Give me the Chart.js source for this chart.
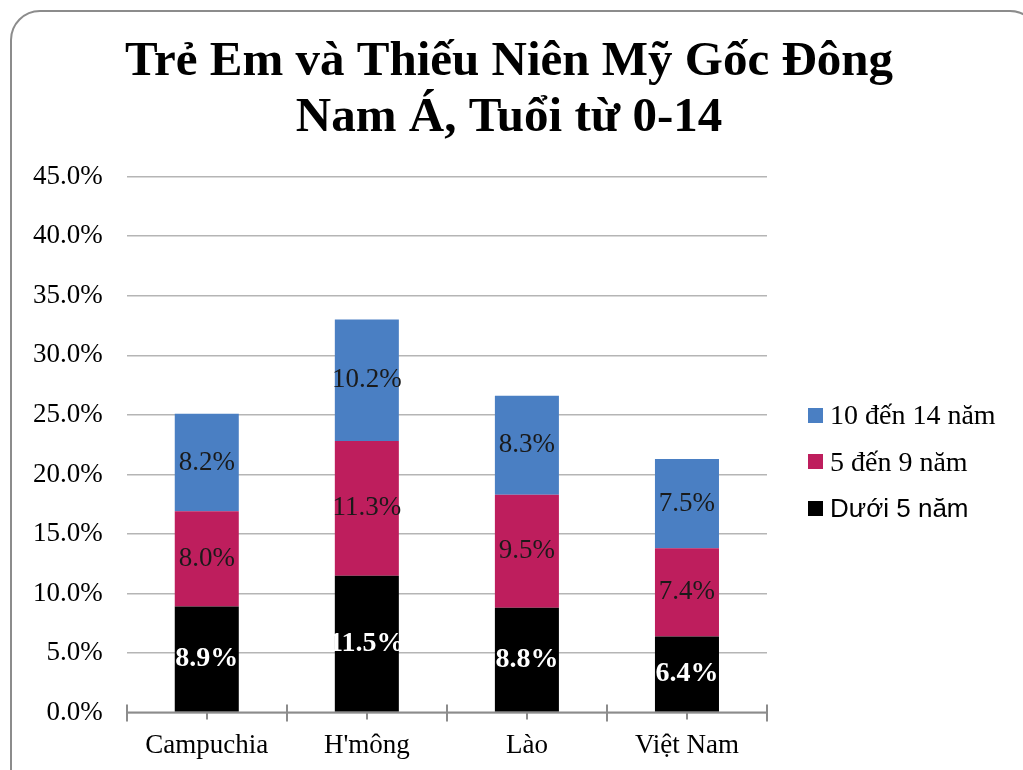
<!DOCTYPE html>
<html lang="vi">
<head>
  <meta charset="UTF-8" />
  <title>Trẻ Em và Thiếu Niên Mỹ Gốc Đông Nam Á</title>
  <script src="https://cdn.jsdelivr.net/npm/chart.js"></script>
  <style>
    html,body{margin:0;padding:0;background:#fff;overflow:hidden;}
    #wrap{position:relative;width:1023px;height:770px;}
    #frame{position:absolute;left:10px;top:10px;width:1030px;height:800px;border:2px solid #8c8c8c;border-radius:30px;box-sizing:border-box;pointer-events:none;}
    #legend{position:absolute;left:808px;top:392px;margin:0;padding:0;list-style:none;}
    #legend li{display:flex;align-items:center;height:46.5px;white-space:nowrap;color:#000;}
    #legend .sw{display:inline-block;width:15px;height:15px;margin-right:7px;}
  </style>
</head>
<body>
  <div id="wrap">
    <canvas id="ageChart"></canvas>
    <ul id="legend"></ul>
    <div id="frame"></div>
  </div>

<script>
  // data
  const groups=['Campuchia',"H'mông",'Lào','Việt Nam'];
  const under5=[8.9,11.5,8.8,6.4];
  const age5to9=[8.0,11.3,9.5,7.4];
  const age10to14=[8.2,10.2,8.3,7.5];
  const seriesNames=['Dưới 5 năm','5 đến 9 năm','10 đến 14 năm'];
  const seriesColors=['#000000','#BE1E5D','#4A7FC3'];

  const serif="'Liberation Serif', 'DejaVu Serif', serif";
  const sans="'Liberation Sans', Arial, sans-serif";

  // value labels inside each segment
  const segLabels={
    id:'segLabels',
    afterDatasetsDraw(chart){
      const ctx=chart.ctx;
      chart.data.datasets.forEach((ds,i)=>{
        const meta=chart.getDatasetMeta(i);
        if(meta.hidden) return;
        meta.data.forEach((bar,j)=>{
          const y=(bar.y+bar.base)/2;
          ctx.save();
          ctx.textAlign='center';ctx.textBaseline='middle';
          if(i===0){ctx.fillStyle='#fff';ctx.font='bold 28px '+serif;}
          else{ctx.fillStyle='#1a1a1a';ctx.font='27px '+serif;}
          ctx.fillText(ds.data[j].toFixed(1)+'%',bar.x,y);
          ctx.restore();
        });
      });
    }
  };

  // x axis tick marks: long ones at category edges, short ones at centres
  const xTicks={
    id:'xTicks',
    afterDraw(chart){
      const sx=chart.scales.x, area=chart.chartArea, ctx=chart.ctx;
      const step=(sx.getPixelForValue(1)-sx.getPixelForValue(0));
      ctx.save();
      ctx.strokeStyle='#8c8c8c';ctx.lineWidth=2;
      ctx.beginPath();
      ctx.moveTo(area.left,area.bottom);ctx.lineTo(area.right,area.bottom);
      for(let k=0;k<=groups.length;k++){
        const x=Math.round(sx.getPixelForValue(k)-step/2);
        ctx.moveTo(x,area.bottom-8);ctx.lineTo(x,area.bottom+9);
      }
      groups.forEach((g,k)=>{
        const x=Math.round(sx.getPixelForValue(k));
        ctx.moveTo(x,area.bottom);ctx.lineTo(x,area.bottom+7);
      });
      ctx.stroke();
      ctx.restore();
    }
  };

  const chart=new Chart(document.getElementById('ageChart'),{
    type:'bar',
    data:{
      labels:groups,
      datasets:[
        {label:seriesNames[0],data:under5,backgroundColor:seriesColors[0]},
        {label:seriesNames[1],data:age5to9,backgroundColor:seriesColors[1]},
        {label:seriesNames[2],data:age10to14,backgroundColor:seriesColors[2]}
      ]
    },
    options:{
      responsive:true,maintainAspectRatio:false,animation:false,
      layout:{padding:{left:9,right:14,top:20,bottom:-9}},
      datasets:{bar:{barPercentage:0.4,categoryPercentage:1}},
      plugins:{
        title:{display:true,text:['Trẻ Em và Thiếu Niên Mỹ Gốc Đông','Nam Á, Tuổi từ 0-14'],
          color:'#000',font:{family:serif,size:49,weight:'bold',lineHeight:1.15},padding:{top:14,bottom:30}},
        legend:{display:false},
        tooltip:{enabled:false}
      },
      scales:{
        x:{stacked:true,
          grid:{display:false,drawTicks:false},border:{display:false},
          ticks:{color:'#000',font:{family:serif,size:27},padding:17}},
        y:{stacked:true,min:0,max:45,
          ticks:{stepSize:5,color:'#000',font:{family:serif,size:27},padding:24,
            callback:v=>v.toFixed(1)+'%'},
          grid:{color:'#b5b5b5',lineWidth:1.5,drawTicks:false},
          border:{display:false}},
        // empty room on the right where the legend sits
        gap:{type:'linear',position:'right',display:true,
          ticks:{display:false},grid:{display:false,drawTicks:false},border:{display:false},
          afterFit:s=>{s.width=242;}}
      }
    },
    plugins:[segLabels,xTicks]
  });

  // legend, last series on top as in the original
  const legend=document.getElementById('legend');
  chart.data.datasets.slice().reverse().forEach(ds=>{
    const li=document.createElement('li');
    const sw=document.createElement('span');
    sw.className='sw';sw.style.background=ds.backgroundColor;
    li.appendChild(sw);
    li.appendChild(document.createTextNode(ds.label));
    li.style.font=ds.label===seriesNames[0]?'26px '+sans:'28px '+serif;
    legend.appendChild(li);
  });
</script>
</body>
</html>
